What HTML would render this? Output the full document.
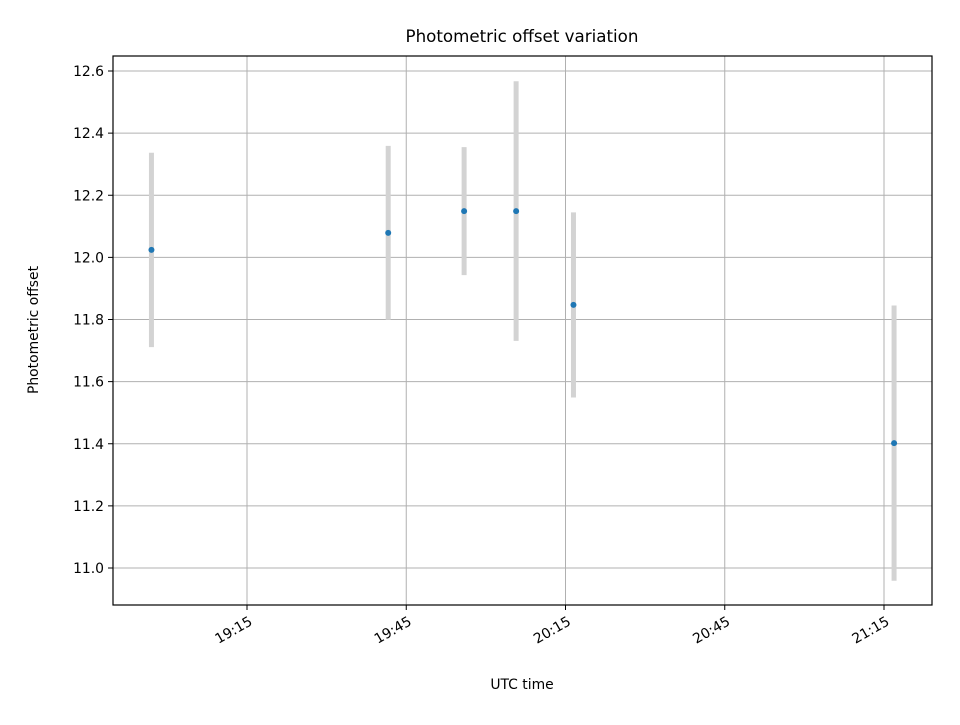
<!DOCTYPE html>
<html><head><meta charset="utf-8"><style>
body{margin:0;background:#fff;}
svg{font-family:"DejaVu Sans","Liberation Sans",sans-serif;}
</style></head><body>
<svg id="chart" width="960" height="720" xmlns="http://www.w3.org/2000/svg">
<rect width="960" height="720" fill="#fff"/>
<text x="522" y="42" text-anchor="middle" font-size="16.7">Photometric offset variation</text>
<g id="grid"></g>
<g id="bars"></g>
<g id="pts"></g>
<rect x="113" y="56" width="819" height="549" fill="none" stroke="#000" stroke-width="1.2"/>
<g id="ticks"></g>
<text x="522" y="689" text-anchor="middle" font-size="13.9">UTC time</text>
<text transform="translate(38,330) rotate(-90)" text-anchor="middle" font-size="13.9">Photometric offset</text>
</svg>
<script>
// minutes since 18:00 UTC
const times = [57.0, 101.6, 115.9, 125.7, 136.5, 196.9];
const offsets = [12.024, 12.079, 12.149, 12.149, 11.847, 11.402];
const errors = [0.313, 0.28, 0.206, 0.418, 0.298, 0.443];
const yTicks = [11.0, 11.2, 11.4, 11.6, 11.8, 12.0, 12.2, 12.4, 12.6];
const xTicks = [75, 105, 135, 165, 195];
const xTickLabels = ["19:15", "19:45", "20:15", "20:45", "21:15"];

const NS = "http://www.w3.org/2000/svg";
function X(m){return 247 + (m-75)*(159.25/30);}
function Y(v){return 568 - (v-11)*(497/1.6);}
function mk(tag, attrs, parent){const e=document.createElementNS(NS,tag);for(const k in attrs)e.setAttribute(k,attrs[k]);parent.appendChild(e);return e;}
const grid=document.getElementById('grid'), ticks=document.getElementById('ticks'), bars=document.getElementById('bars'), pts=document.getElementById('pts');

yTicks.forEach(v=>{
  const y=Y(v);
  const g=mk('line',{x1:113,x2:932,y1:y,y2:y,stroke:'#b0b0b0','stroke-width':1},grid);
  
  
  const t=mk('line',{x1:108,x2:113,y1:y,y2:y,stroke:'#000','stroke-width':1},ticks);
  
  
  const l=mk('text',{x:104,y:y+5,'text-anchor':'end','font-size':13.9},ticks);
  l.textContent=v.toFixed(1);
  
  
});
xTicks.forEach((m,i)=>{
  const x=X(m);
  const g=mk('line',{x1:x,x2:x,y1:56,y2:605,stroke:'#b0b0b0','stroke-width':1},grid);
  
  
  const t=mk('line',{x1:x,x2:x,y1:605,y2:610,stroke:'#000','stroke-width':1},ticks);
  
  
  const l=mk('text',{transform:`translate(${x+1},${615}) rotate(-30)`,'text-anchor':'end','font-size':13.9,dy:'0.75em'},ticks);
  l.textContent=xTickLabels[i];
  
  
});
times.forEach((m,i)=>{
  const x=X(m);
  const b=mk('line',{x1:x,x2:x,y1:Y(offsets[i]+errors[i]),y2:Y(offsets[i]-errors[i]),stroke:'#d3d3d3','stroke-width':5},bars);
  
  
  const c=mk('circle',{cx:x,cy:Y(offsets[i]),r:3,fill:'#1f77b4'},pts);
  
  
});
</script>
</body></html>
